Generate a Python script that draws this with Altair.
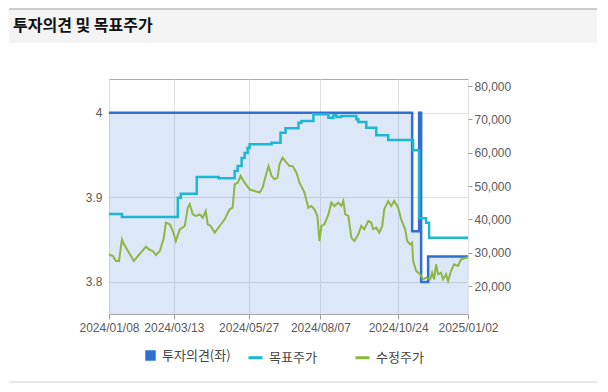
import altair as alt
import pandas as pd

TITLE = "투자의견 및 목표주가"
LEGEND_LABELS = ["투자의견(좌)", "목표주가", "수정주가"]

OPINION_DATES = ["2024-01-08", "2024-11-07", "2024-11-14", "2024-11-16", "2024-11-23", "2025-01-02"]
OPINION_VALUES = [4, 3.86, 4, 3.8, 3.83, 3.83]

TARGET_DATES = ["2024-01-08", "2024-01-21", "2024-03-17", "2024-03-20", "2024-04-05", "2024-04-27",
                "2024-05-13", "2024-05-16", "2024-05-20", "2024-05-23", "2024-05-26", "2024-05-28",
                "2024-06-19", "2024-06-28", "2024-07-03", "2024-07-16", "2024-07-19", "2024-07-31",
                "2024-08-15", "2024-08-20", "2024-08-23", "2024-08-28", "2024-09-12", "2024-09-14",
                "2024-09-22", "2024-10-02", "2024-10-14", "2024-11-08", "2024-11-14", "2024-11-21",
                "2024-11-24", "2025-01-02"]
TARGET_VALUES = [41600, 40700, 46500, 47700, 52700, 52300, 54500, 56000, 58400, 59900, 61400, 62500,
                 63000, 66000, 67300, 69000, 69500, 71500, 70500, 71300, 70700, 71000, 70000, 69200,
                 67500, 65200, 63800, 60700, 40300, 39000, 34500, 34500]

PRICE_DATES = ["2024-01-08", "2024-01-12", "2024-01-15", "2024-01-18", "2024-01-21", "2024-01-23",
               "2024-01-27", "2024-01-30", "2024-02-02", "2024-02-06", "2024-02-09", "2024-02-14",
               "2024-02-17", "2024-02-21", "2024-02-24", "2024-02-28", "2024-03-03", "2024-03-05",
               "2024-03-09", "2024-03-12", "2024-03-15", "2024-03-19", "2024-03-24", "2024-03-27",
               "2024-03-29", "2024-04-01", "2024-04-04", "2024-04-08", "2024-04-11", "2024-04-14",
               "2024-04-16", "2024-04-19", "2024-04-23", "2024-04-28", "2024-05-03", "2024-05-08",
               "2024-05-11", "2024-05-13", "2024-05-16", "2024-05-19", "2024-05-23", "2024-05-28",
               "2024-06-02", "2024-06-07", "2024-06-10", "2024-06-14", "2024-06-16", "2024-06-19",
               "2024-06-22", "2024-06-25", "2024-06-27", "2024-06-30", "2024-07-04", "2024-07-07",
               "2024-07-10", "2024-07-14", "2024-07-17", "2024-07-22", "2024-07-26", "2024-07-29",
               "2024-08-01", "2024-08-04", "2024-08-06", "2024-08-08", "2024-08-11", "2024-08-15",
               "2024-08-18", "2024-08-21", "2024-08-25", "2024-08-28", "2024-08-30", "2024-09-01",
               "2024-09-04", "2024-09-07", "2024-09-10", "2024-09-14", "2024-09-17", "2024-09-20",
               "2024-09-24", "2024-09-27", "2024-09-29", "2024-10-02", "2024-10-05", "2024-10-08",
               "2024-10-10", "2024-10-14", "2024-10-17", "2024-10-20", "2024-10-24", "2024-10-27",
               "2024-10-31", "2024-11-02", "2024-11-05", "2024-11-07", "2024-11-08", "2024-11-11",
               "2024-11-15", "2024-11-18", "2024-11-21", "2024-11-25", "2024-11-27", "2024-11-29",
               "2024-12-01", "2024-12-03", "2024-12-06", "2024-12-08", "2024-12-11", "2024-12-13",
               "2024-12-16", "2024-12-19", "2024-12-23", "2024-12-26", "2025-01-01", "2025-01-02"]
PRICE_VALUES = [29500, 29000, 27500, 27500, 34000, 32500,
                30500, 29000, 27500, 29000, 30000, 31800,
                31000, 30500, 29300, 30500, 34500, 39000,
                38500, 36500, 33500, 37000, 38000, 43500,
                44500, 41500, 41000, 41500, 40500, 42500,
                38500, 38000, 36000, 38000, 40000, 43000,
                43500, 50500, 51000, 53000, 51000, 49000,
                48500, 48000, 49500, 54000, 56000, 53000,
                52000, 52500, 56500, 58500, 57000, 56000,
                56000, 54000, 51000, 48000, 43500, 44000,
                43000, 41000, 33500, 38000, 38500, 41500,
                45000, 44000, 45000, 44000, 45500, 41500,
                41000, 34500, 33500, 35500, 38000, 37000,
                39500, 39000, 37000, 37500, 36000, 38000,
                43000, 45500, 44000, 45500, 43500, 40000,
                37000, 33500, 32500, 33000, 27500, 24500,
                23500, 22000, 22500, 22000, 24000, 22000,
                26500, 23500, 24000, 22000, 23500, 21500,
                24500, 26500, 26000, 28000, 28500, 29000]

X_TICKS = ["2024-01-08", "2024-03-13", "2024-05-27", "2024-08-07", "2024-10-24", "2025-01-02"]
X_DOMAIN = ["2024-01-08", "2025-01-02"]
LEFT_TICKS = [3.8, 3.9, 4]
LEFT_DOMAIN = [3.762, 4.04]
RIGHT_TICKS = [20000, 30000, 40000, 50000, 60000, 70000, 80000]
RIGHT_DOMAIN = [11600, 82100]

BLUE = "#2f6fd4"
CYAN = "#1cb7d1"
GREEN = "#8db642"
LABEL_COLOR = "#5a5a5a"
AXIS_FONT = "Liberation Sans"
KFONT = "Noto Sans CJK KR"


def utc_dt(s):
    y, m, d = (int(p) for p in s.split("-"))
    return alt.DateTime(year=y, month=m, date=d, utc=True)


op_df = pd.DataFrame({"date": OPINION_DATES, "value": OPINION_VALUES, "series": LEGEND_LABELS[0]})
tgt_df = pd.DataFrame({"date": TARGET_DATES, "value": TARGET_VALUES, "series": LEGEND_LABELS[1]})
prc_df = pd.DataFrame({"date": PRICE_DATES, "value": PRICE_VALUES, "series": LEGEND_LABELS[2]})
head_df = pd.DataFrame({"t": [TITLE]})

X = alt.X(
    "date:T",
    scale=alt.Scale(type="utc", domain=[utc_dt(s) for s in X_DOMAIN], nice=False),
    axis=alt.Axis(
        values=[utc_dt(s) for s in X_TICKS], format="%Y/%m/%d", title=None,
        grid=True, gridColor="#e0e0e0", domain=False, ticks=True, tickSize=5,
        tickColor="#9a9a9a", labelPadding=3, labelColor=LABEL_COLOR,
        labelFont=AXIS_FONT, labelFontSize=12, labelOverlap=False, labelFlush=False,
    ),
)

YL = alt.Y(
    "value:Q",
    scale=alt.Scale(domain=LEFT_DOMAIN, nice=False, zero=False),
    axis=alt.Axis(
        values=LEFT_TICKS, format="~g", title=None, orient="left", grid=True,
        gridColor="#e0e0e0", ticks=False, domain=False, labelPadding=7,
        labelColor=LABEL_COLOR, labelFont=AXIS_FONT, labelFontSize=12,
    ),
)

YR = alt.Y(
    "value:Q",
    scale=alt.Scale(domain=RIGHT_DOMAIN, nice=False, zero=False),
    axis=alt.Axis(
        values=RIGHT_TICKS, format=",.0f", title=None, orient="right", grid=False,
        ticks=True, tickSize=4, tickColor="#9a9a9a", domain=False, labelPadding=2,
        labelColor=LABEL_COLOR, labelFont=AXIS_FONT, labelFontSize=12,
    ),
)

area = alt.Chart(op_df).mark_area(
    interpolate="step-after", color=BLUE, fillOpacity=0.17, strokeWidth=0
).encode(x=X, y=YL, y2=alt.datum(LEFT_DOMAIN[0]))

op_line = alt.Chart(op_df).mark_line(
    interpolate="step-after", strokeWidth=2.5
).encode(
    x=X, y=YL,
    stroke=alt.Stroke(
        "series:N",
        scale=alt.Scale(domain=[LEGEND_LABELS[0]], range=[BLUE]),
        legend=alt.Legend(
            orient="none", legendX=35, legendY=270, title=None, symbolType="square",
            symbolSize=110, symbolFillColor=BLUE, symbolStrokeWidth=0, labelOffset=5,
            labelFont=KFONT, labelFontSize=13, labelColor="#444444", padding=0,
        ),
    ),
)

COLOR = alt.Color(
    "series:N",
    scale=alt.Scale(domain=LEGEND_LABELS[1:], range=[CYAN, GREEN]),
    legend=alt.Legend(
        orient="none", legendX=138, legendY=270, title=None, direction="horizontal",
        symbolType="stroke", symbolSize=196, symbolStrokeWidth=3, labelOffset=5,
        columnPadding=32, labelFont=KFONT, labelFontSize=13, labelColor="#444444", padding=0,
    ),
)

tgt_line = alt.Chart(tgt_df).mark_line(interpolate="step-after", strokeWidth=2.5).encode(
    x=X, y=YR, color=COLOR
)
prc_line = alt.Chart(prc_df).mark_line(strokeWidth=2).encode(x=X, y=YR, color=COLOR)

left = alt.layer(area, op_line)
right = alt.layer(tgt_line, prc_line)

head_rect = alt.Chart(head_df).mark_rect(color="#f4f4f4").encode(
    x=alt.value(-100), x2=alt.value(488), y=alt.value(-70), y2=alt.value(-36)
)
head_rule = alt.Chart(head_df).mark_rule(color="#bdbdbd", strokeWidth=1.5).encode(
    x=alt.value(-100), x2=alt.value(488), y=alt.value(-70)
)
foot_rule = alt.Chart(head_df).mark_rule(color="#d0d0d0", strokeWidth=1).encode(
    x=alt.value(-100), x2=alt.value(488), y=alt.value(303)
)
head_text = alt.Chart(head_df).mark_text(
    align="left", baseline="middle", fontSize=16, fontWeight="bold", font=KFONT, color="#111111"
).encode(x=alt.value(-96), y=alt.value(-53), text="t:N")

chart = (
    alt.layer(left, right, head_rect, head_rule, foot_rule, head_text)
    .resolve_scale(y="independent")
    .properties(width=359, height=235, padding={"left": 0, "top": 0, "right": 0, "bottom": 0})
    .configure_view(stroke="#aaaaaa", strokeWidth=1)
)

chart.save("out.html", embed_options={"renderer": "svg", "actions": False})
